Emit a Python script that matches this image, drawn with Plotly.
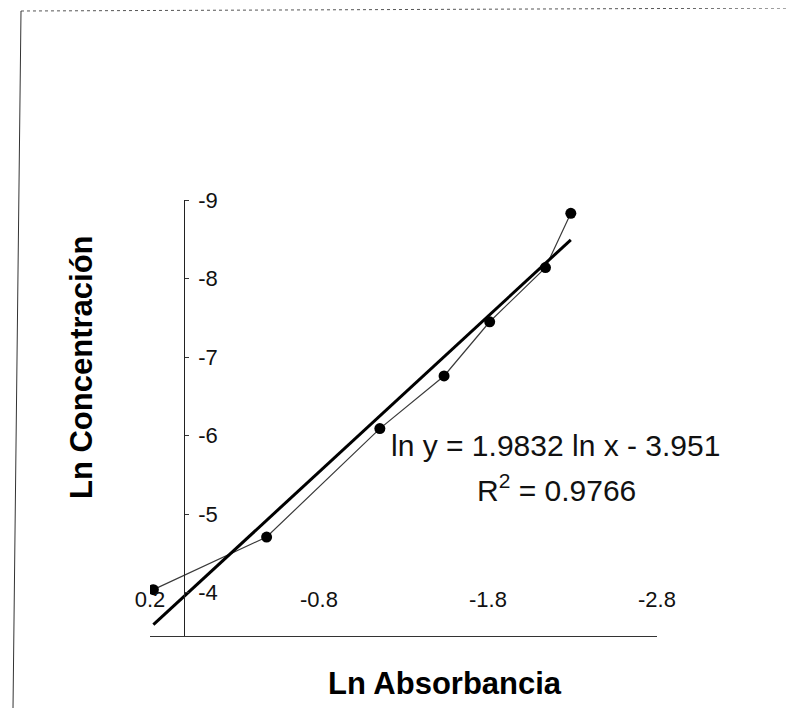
import plotly.graph_objects as go

# ---- data ----
ln_abs = [0.18, -0.49, -1.16, -1.54, -1.81, -2.14, -2.29]
ln_conc = [-4.04, -4.71, -6.09, -6.76, -7.45, -8.14, -8.83]

trend_slope = 1.9832
trend_intercept = -3.951
r_squared = 0.9766

x_tick_vals = [0.2, -0.8, -1.8, -2.8]
x_tick_text = ["0.2", "-0.8", "-1.8", "-2.8"]
y_tick_vals = [-4, -5, -6, -7, -8, -9]
y_tick_text = ["-4", "-5", "-6", "-7", "-8", "-9"]

x_title = "Ln Absorbancia"
y_title = "Ln Concentración"
eq_line1 = "ln y = {:.4f} ln x - {:.3f}".format(trend_slope, -trend_intercept)
eq_line2 = "R<sup>2</sup> = {:.4f}".format(r_squared)

FONT = "Liberation Sans, Arial, sans-serif"

# ---- figure geometry (page body has an 8px margin) ----
OFF = 8
W, H = 786, 700
L, R, T, B = 142, 137, 192, 72
pw, ph = W - L - R, H - T - B


def px_to_paper(px, py):
    """Convert a target window pixel to paper coordinates."""
    fx, fy = px - OFF, py - OFF
    return (fx - L) / pw, (H - B - fy) / ph


x_range = [0.2, -2.8]
y_range = [-3.45, -9.0]

fig = go.Figure()

# data series (thin connecting line + markers)
fig.add_trace(go.Scatter(
    x=ln_abs, y=ln_conc, mode="lines+markers",
    line=dict(color="#3a3a3a", width=1.2),
    marker=dict(color="black", size=11, symbol="circle"),
    showlegend=False, hoverinfo="x+y",
))

# trend line from the fitted equation over the data's x extent
tx = [max(ln_abs), min(ln_abs)]
ty = [trend_slope * v + trend_intercept for v in tx]
fig.add_trace(go.Scatter(
    x=tx, y=ty, mode="lines",
    line=dict(color="black", width=3),
    showlegend=False, hoverinfo="skip",
))

y_axis_pos = (x_range[0] - 0) / (x_range[0] - x_range[1])

fig.update_layout(
    width=W, height=H,
    margin=dict(l=L, r=R, t=T, b=B),
    paper_bgcolor="white", plot_bgcolor="white",
    font=dict(family=FONT, color="black"),
    xaxis=dict(
        range=x_range, showgrid=False, zeroline=False,
        anchor="free", position=0, side="top",
        showline=True, linecolor="#333", linewidth=1,
        tickmode="array", tickvals=x_tick_vals, ticktext=x_tick_text,
        ticks="", ticklabelstandoff=20,
        tickfont=dict(size=22, family=FONT, color="#111"),
    ),
    yaxis=dict(
        range=y_range, showgrid=False, zeroline=False,
        anchor="free", position=y_axis_pos, side="right",
        showline=True, linecolor="#222", linewidth=1,
        tickmode="array", tickvals=y_tick_vals, ticktext=y_tick_text,
        ticks="outside", ticklen=4, tickcolor="#333",
        ticklabelstandoff=5,
        tickfont=dict(size=22, family=FONT, color="#111"),
    ),
)

annotations = []
ax, ay = px_to_paper(445, 683)
annotations.append(dict(x=ax, y=ay, xref="paper", yref="paper", text="<b>" + x_title + "</b>",
                        showarrow=False, xanchor="center", yanchor="middle",
                        font=dict(size=31, family=FONT, color="black")))
ax, ay = px_to_paper(81, 367)
annotations.append(dict(x=ax, y=ay, xref="paper", yref="paper", text="<b>" + y_title + "</b>",
                        showarrow=False, xanchor="center", yanchor="middle", textangle=-90,
                        font=dict(size=31, family=FONT, color="black")))
ax, ay = px_to_paper(555, 445)
annotations.append(dict(x=ax, y=ay, xref="paper", yref="paper", text=eq_line1,
                        showarrow=False, xanchor="center", yanchor="middle",
                        font=dict(size=30, family=FONT, color="#111")))
ax, ay = px_to_paper(556, 488)
annotations.append(dict(x=ax, y=ay, xref="paper", yref="paper", text=eq_line2,
                        showarrow=False, xanchor="center", yanchor="middle",
                        font=dict(size=30, family=FONT, color="#111")))
fig.update_layout(annotations=annotations)

# outer frame of the scanned figure (top dotted edge and left edge)
x0, y0 = px_to_paper(21, 11)
x1, y1 = px_to_paper(794, 8)
x2, y2 = px_to_paper(13, 708)
fig.add_shape(type="line", xref="paper", yref="paper", x0=x0, y0=y0, x1=x1, y1=y1,
              line=dict(color="#555", width=1, dash="dot"))
fig.add_shape(type="line", xref="paper", yref="paper", x0=x0, y0=y0, x1=x2, y1=y2,
              line=dict(color="#333", width=1))

fig.write_html("out.html")
